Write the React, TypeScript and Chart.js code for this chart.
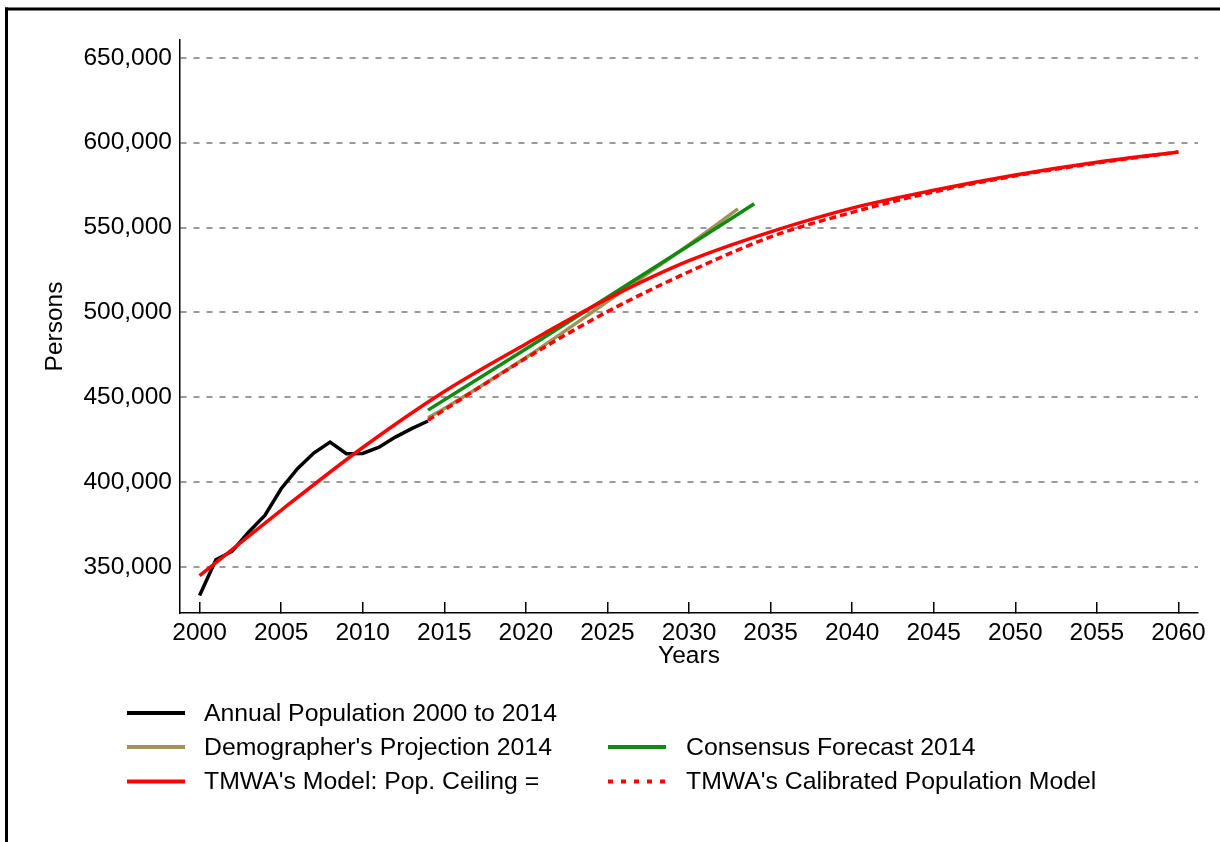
import React, { useEffect, useRef } from "react";
import { Chart, registerables } from "chart.js";

Chart.register(...registerables);

// ---- Data ----
const popYears = [2000, 2001, 2002, 2003, 2004, 2005, 2006, 2007, 2008, 2009, 2010, 2011, 2012, 2013, 2014];
const popValues = [333300, 354400, 359400, 370600, 380500, 396200, 408000, 417200, 423700, 416800, 417000, 420700, 426600, 431600, 436100];

const demoYears = [2014, 2015, 2020, 2025, 2030, 2033];
const demoValues = [438000, 443500, 473500, 506500, 540000, 561000];

const consYears = [2014, 2020, 2025, 2030, 2034];
const consValues = [442500, 478500, 509000, 539500, 564000];

const modelYears = [2000, 2005, 2010, 2015, 2020, 2025, 2030, 2035, 2040, 2045, 2050, 2055, 2060];
const modelValues = [345000, 383500, 420500, 453500, 481500, 508000, 530500, 547500, 561500, 572000, 581000, 588500, 594500];

const calibYears = [2014, 2020, 2025, 2030, 2035, 2040, 2045, 2050, 2055, 2060];
const calibValues = [436500, 473000, 500500, 524000, 544500, 559000, 571000, 580500, 588000, 594500];

const xTicks = [2000, 2005, 2010, 2015, 2020, 2025, 2030, 2035, 2040, 2045, 2050, 2055, 2060];
const yTicks = [350000, 400000, 450000, 500000, 550000, 600000, 650000];

const labels = [
  "Annual Population 2000 to 2014",
  "Demographer's Projection 2014",
  "Consensus Forecast 2014",
  "TMWA's Model: Pop. Ceiling =",
  "TMWA's Calibrated Population Model",
];

// ---- Styles ----
const FONT = '"Liberation Sans", Arial, Helvetica, sans-serif';
const BLACK = "#000000";
const TAN = "#a09258";
const GREEN = "#108a10";
const RED = "#ff0000";

const toPts = (xs: number[], ys: number[]) => xs.map((x, i) => ({ x, y: ys[i] }));

// legend layout: [datasetIndex, col, row]
const legendLayout: [number, number, number][] = [
  [0, 0, 0],
  [1, 0, 1],
  [2, 1, 1],
  [3, 0, 2],
  [4, 1, 2],
];
const legendColLineX = [127, 608];
const legendColTextX = [204, 686];
const legendRowY = [713, 747, 781.5];

const decorPlugin = {
  id: "decor",
  afterDraw(chart: any) {
    const ctx = chart.ctx as CanvasRenderingContext2D;
    ctx.save();
    // frame
    ctx.fillStyle = "#000";
    ctx.fillRect(5, 7.5, 1215, 3);
    ctx.fillRect(5, 7.5, 3, 842);
    // legend
    ctx.font = `24.8px ${FONT}`;
    ctx.textBaseline = "middle";
    ctx.textAlign = "left";
    legendLayout.forEach(([di, col, row]) => {
      const ds = chart.data.datasets[di];
      const y = legendRowY[row];
      ctx.save();
      ctx.strokeStyle = ds.borderColor;
      ctx.lineWidth = 4;
      ctx.lineCap = "butt";
      if (ds.borderDash && ds.borderDash.length) ctx.setLineDash([5, 8]);
      ctx.beginPath();
      ctx.moveTo(legendColLineX[col], y);
      ctx.lineTo(legendColLineX[col] + 58, y);
      ctx.stroke();
      ctx.restore();
      ctx.fillStyle = "#000";
      ctx.fillText(ds.label, legendColTextX[col], y + 1);
    });
    ctx.restore();
  },
};

export default function App() {
  const ref = useRef<HTMLCanvasElement | null>(null);

  useEffect(() => {
    if (!ref.current) return;
    Chart.defaults.font.family = FONT;
    Chart.defaults.font.size = 24;
    Chart.defaults.color = "#000";

    const chart = new Chart(ref.current, {
      type: "line",
      data: {
        datasets: [
          {
            label: labels[0],
            data: toPts(popYears, popValues),
            borderColor: BLACK,
            borderWidth: 3.5,
            pointRadius: 0,
            tension: 0,
            order: 4,
          },
          {
            label: labels[1],
            data: toPts(demoYears, demoValues),
            borderColor: TAN,
            borderWidth: 3.5,
            pointRadius: 0,
            cubicInterpolationMode: "monotone",
            order: 3,
          },
          {
            label: labels[2],
            data: toPts(consYears, consValues),
            borderColor: GREEN,
            borderWidth: 3.5,
            pointRadius: 0,
            cubicInterpolationMode: "monotone",
            order: 2,
          },
          {
            label: labels[3],
            data: toPts(modelYears, modelValues),
            borderColor: RED,
            borderWidth: 3.5,
            pointRadius: 0,
            cubicInterpolationMode: "monotone",
            order: 0,
          },
          {
            label: labels[4],
            data: toPts(calibYears, calibValues),
            borderColor: RED,
            borderWidth: 3.5,
            borderDash: [7, 4],
            pointRadius: 0,
            cubicInterpolationMode: "monotone",
            order: 1,
          },
        ],
      },
      options: {
        responsive: false,
        animation: false,
        layout: { padding: { left: 0, top: 40, right: 22, bottom: 169 } },
        plugins: {
          legend: { display: false },
          tooltip: { enabled: false },
        },
        scales: {
          x: {
            type: "linear",
            min: 1998.8,
            max: 2061.2,
            afterBuildTicks: (scale: any) => {
              scale.ticks = xTicks.map((v) => ({ value: v }));
            },
            afterFit: (scale: any) => {
              scale.height = 60;
              scale.paddingLeft = 0;
              scale.paddingRight = 0;
            },
            grid: {
              display: true,
              drawOnChartArea: false,
              drawTicks: true,
              tickLength: -11,
              color: "#000",
              tickColor: "#000",
              lineWidth: 1.5,
            },
            border: { display: true, color: "#000", width: 1.5 },
            ticks: {
              padding: 17,
              maxRotation: 0,
              autoSkip: false,
              font: { size: 24.5 },
              color: "#000",
              callback: (v: any) => String(v),
            },
            title: {
              display: true,
              text: "Years",
              font: { size: 24.5 },
              color: "#000",
              padding: { top: 0, bottom: 2 },
            },
          },
          y: {
            type: "linear",
            min: 323000,
            max: 660500,
            afterBuildTicks: (scale: any) => {
              scale.ticks = yTicks.map((v) => ({ value: v }));
            },
            afterFit: (scale: any) => {
              scale.width = 180;
              scale.paddingTop = 0;
              scale.paddingBottom = 0;
            },
            grid: {
              display: true,
              drawOnChartArea: true,
              drawTicks: false,
              color: "#9a9a9a",
              lineWidth: 2,
            },
            border: { display: true, color: "#000", width: 1.5, dash: [6, 7] },
            ticks: {
              padding: 8,
              autoSkip: false,
              font: { size: 24.5 },
              color: "#000",
              callback: (v: any) => Number(v).toLocaleString("en-US"),
            },
            title: {
              display: true,
              text: "Persons",
              font: { size: 24.5 },
              color: "#000",
              padding: { top: 41, bottom: 0 },
            },
          },
        },
      },
      plugins: [decorPlugin],
    } as any);

    return () => chart.destroy();
  }, []);

  return (
    <div style={{ position: "fixed", left: 0, top: 0, width: 1220, height: 842, background: "#fff" }}>
      <canvas ref={ref} width={1220} height={842} style={{ display: "block", width: 1220, height: 842 }} />
    </div>
  );
}
